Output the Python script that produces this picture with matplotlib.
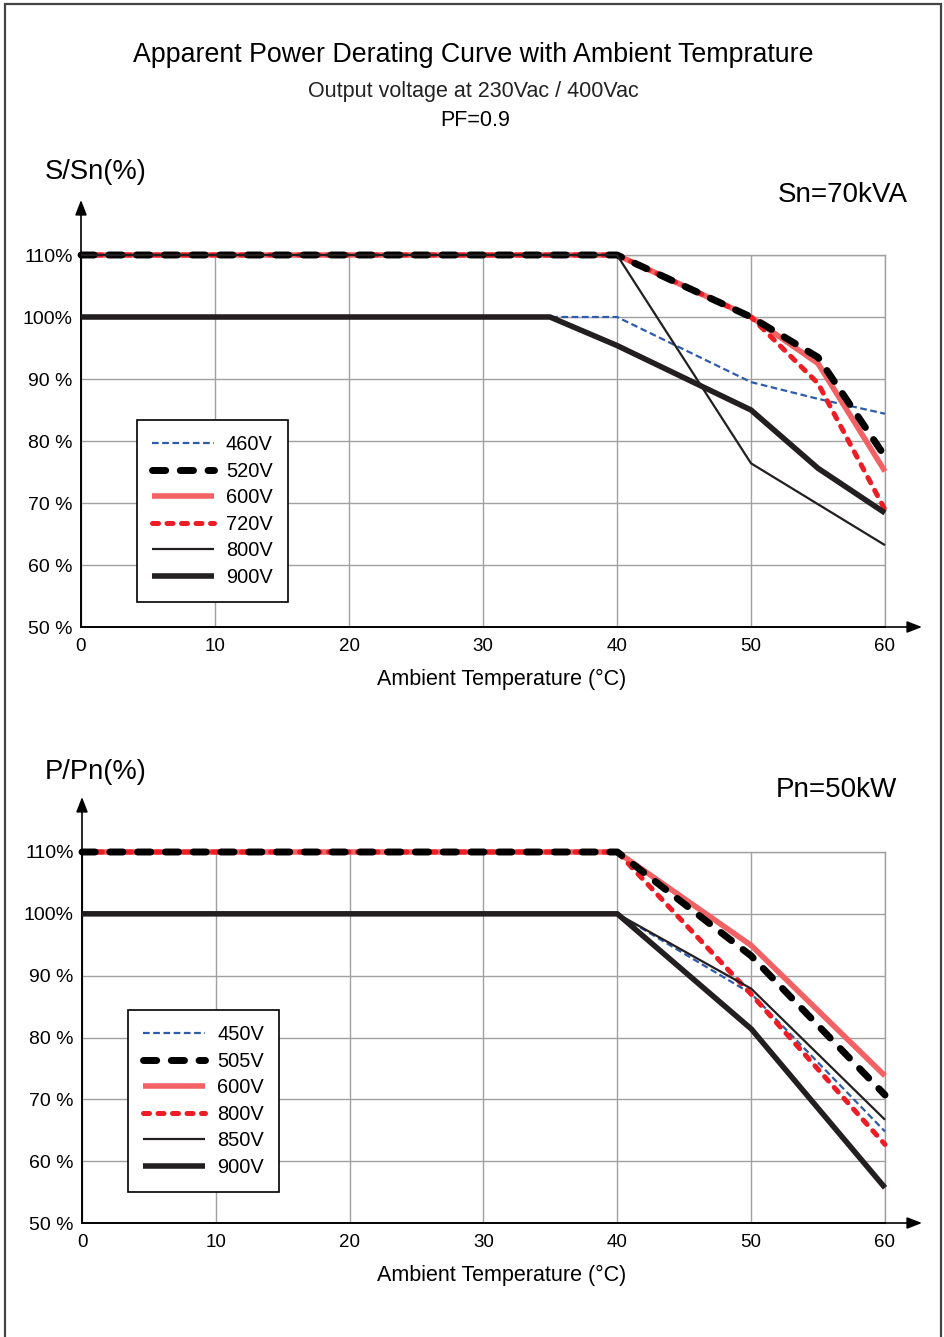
import matplotlib
matplotlib.use("Agg")
import matplotlib.pyplot as plt
from matplotlib.patches import Rectangle

plt.rcParams['font.family'] = ['Liberation Sans', 'DejaVu Sans']

# ---- data: apparent power derating (S/Sn %) ----
s_labels = ["460V", "520V", "600V", "720V", "800V", "900V"]
s_temp = {
    "460V": [0, 35, 40, 50, 55, 60],
    "520V": [0, 40, 50, 55, 60],
    "600V": [0, 40, 50, 55, 60],
    "720V": [0, 40, 50, 55, 60],
    "800V": [0, 40, 50, 55, 60],
    "900V": [0, 35, 40, 50, 55, 60],
}
s_vals = {
    "460V": [100, 100, 100, 89.5, 86.8, 84.4],
    "520V": [110, 110, 100, 93.5, 77.5],
    "600V": [110, 110, 100, 92.5, 75.1],
    "720V": [110, 110, 100, 89.3, 68.9],
    "800V": [110, 110, 76.4, 69.8, 63.2],
    "900V": [100, 100, 95.4, 85.0, 75.6, 68.4],
}

# ---- data: active power derating (P/Pn %) ----
p_labels = ["450V", "505V", "600V", "800V", "850V", "900V"]
p_temp = {
    "450V": [0, 40, 50, 60],
    "505V": [0, 40, 50, 60],
    "600V": [0, 40, 50, 60],
    "800V": [0, 40, 50, 60],
    "850V": [0, 40, 50, 60],
    "900V": [0, 40, 50, 60],
}
p_vals = {
    "450V": [100, 100, 87.1, 64.8],
    "505V": [110, 110, 93.2, 70.7],
    "600V": [110, 110, 94.9, 73.8],
    "800V": [110, 110, 87.0, 62.7],
    "850V": [100, 100, 87.9, 66.7],
    "900V": [100, 100, 81.4, 55.7],
}

x_ticks = [0, 10, 20, 30, 40, 50, 60]
y_ticks = [50, 60, 70, 80, 90, 100, 110]
y_tick_labels = ["50 %", "60 %", "70 %", "80 %", "90 %", "100%", "110%"]

# line styles by position in the legend
styles = [
    dict(color="#2E5BAA", lw=1.6, ls=(0, (3.0, 1.6)), zorder=3),
    dict(color="#000000", lw=5.0, ls=(0, (1.9, 2.1)), zorder=5, dash_capstyle="round"),
    dict(color="#F26265", lw=4.0, ls="-", zorder=3),
    dict(color="#EE1C25", lw=3.6, ls=(0, (1.2, 1.7)), zorder=4, dash_capstyle="round"),
    dict(color="#231F20", lw=1.6, ls="-", zorder=6),
    dict(color="#231F20", lw=4.0, ls="-", zorder=6),
]

W, H = 945, 1337
fig = plt.figure(figsize=(W / 100, H / 100), dpi=100)

# page frame
fig.add_artist(Rectangle((5 / W, -0.01), (941 - 5) / W, 1 - 4 / H + 0.01,
                         transform=fig.transFigure, fill=False,
                         edgecolor="#444444", lw=1.6))


def fx(px):
    return px / W


def fy(py):
    return 1 - py / H


fig.text(fx(473), fy(55), "Apparent Power Derating Curve with Ambient Temprature",
         ha="center", va="center", fontsize=19.3)
fig.text(fx(473), fy(92), "Output voltage at 230Vac / 400Vac",
         ha="center", va="center", fontsize=15.5, color="#222222")
fig.text(fx(475), fy(121), "PF=0.9", ha="center", va="center", fontsize=15.5)


def draw_panel(left, right, top, bottom, labels, temps, vals, legend_pos,
               ylabel, ylabel_pos, rating, rating_pos, xlabel_y):
    ax = fig.add_axes([fx(left), fy(bottom), fx(right) - fx(left), fy(top) - fy(bottom)])
    ax.set_xlim(0, 60)
    ax.set_ylim(50, 110)
    ax.set_xticks(x_ticks)
    ax.set_yticks(y_ticks)
    ax.set_yticklabels(y_tick_labels)
    ax.tick_params(length=0, labelsize=14, pad=6)
    ax.tick_params(axis="x", labelsize=13.5, pad=8)
    ax.grid(True, color="#A0A0A0", lw=1.0)
    ax.set_axisbelow(True)
    for side in ("top", "right"):
        ax.spines[side].set_color("#A0A0A0")
        ax.spines[side].set_linewidth(1.0)
    ax.spines["left"].set_color("black")
    ax.spines["bottom"].set_color("black")
    ax.spines["left"].set_linewidth(1.2)
    ax.spines["bottom"].set_linewidth(1.2)

    for lab, st in zip(labels, styles):
        ax.plot(temps[lab], vals[lab], label=lab, clip_on=False,
                solid_capstyle="butt", **st)

    # arrows on both axes
    h_axes = bottom - top
    w_axes = right - left
    arrow = dict(arrowstyle="-|>,head_length=0.9,head_width=0.35",
                 color="black", lw=1.2, shrinkA=0, shrinkB=0)
    ax.annotate("", xy=((922 - left) / w_axes, 0), xytext=(0, 0),
                xycoords="axes fraction", textcoords="axes fraction",
                arrowprops=arrow)
    ax.annotate("", xy=(0, (bottom - (top - 55)) / h_axes), xytext=(0, 0),
                xycoords="axes fraction", textcoords="axes fraction",
                arrowprops=arrow)

    lx, ly = legend_pos
    leg = ax.legend(loc="upper left",
                    bbox_to_anchor=((lx - left) / w_axes, (bottom - ly) / h_axes),
                    borderaxespad=0, fancybox=False, framealpha=1,
                    edgecolor="black", fontsize=14.4, handlelength=3.1,
                    handletextpad=0.6, labelspacing=0.38, borderpad=0.75)
    leg.get_frame().set_linewidth(1.2)
    leg.set_zorder(10)

    fig.text(fx(ylabel_pos[0]), fy(ylabel_pos[1]), ylabel, ha="left",
             va="center", fontsize=19.7)
    fig.text(fx(rating_pos[0]), fy(rating_pos[1]), rating, ha="right",
             va="center", fontsize=20)
    fig.text(fx(502), fy(xlabel_y), "Ambient Temperature (°C)", ha="center",
             va="center", fontsize=15.5)
    return ax


draw_panel(81, 885, 255, 627, s_labels, s_temp, s_vals, (137, 420),
           "S/Sn(%)", (45, 172), "Sn=70kVA", (908, 195), 679)
draw_panel(82, 885, 852, 1223, p_labels, p_temp, p_vals, (128, 1010),
           "P/Pn(%)", (45, 772), "Pn=50kW", (897, 790), 1275)

fig.savefig("out.png", dpi=100)
